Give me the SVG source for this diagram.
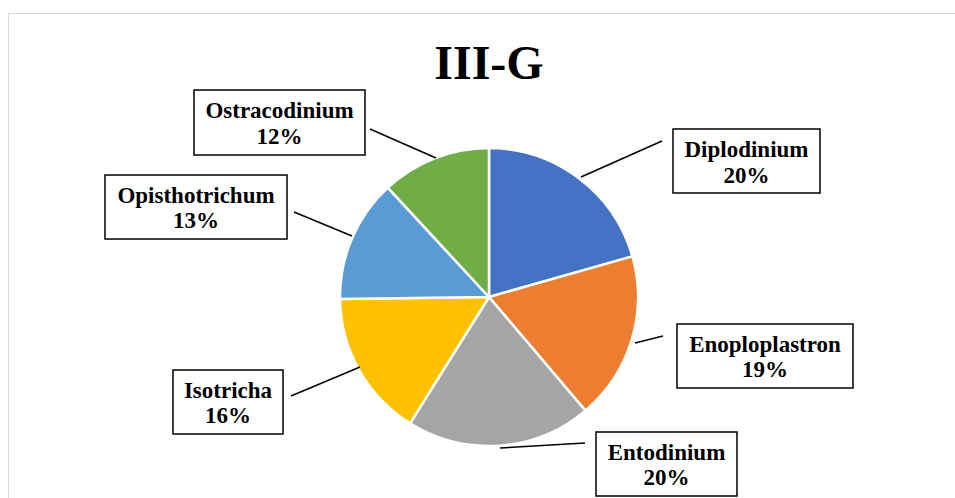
<svg xmlns="http://www.w3.org/2000/svg" width="955" height="498" viewBox="0 0 955 498">
<style>
.t{font-family:"Liberation Serif","Times New Roman",serif;font-weight:bold;fill:#000}
.lbl{font-size:23px;text-anchor:middle}
.box{fill:#fff;stroke:#000;stroke-width:1.5}
.sl{stroke:#fff;stroke-width:2.5;stroke-linejoin:round}
.ld{stroke:#000;stroke-width:1.5;fill:none}
</style>
<rect x="0" y="0" width="955" height="498" fill="#fff"/>
<path d="M8.5 498 V13.5 H955" fill="none" stroke="#d9d9d9" stroke-width="1"/>
<text class="t" x="489" y="79" font-size="48" text-anchor="middle">III-G</text>
<g id="pie">
<path class="sl" fill="#4472C4" d="M489 297 L489 148 A149 149 0 0 1 632.4 256.4 Z"/>
<path class="sl" fill="#ED7D31" d="M489 297 L632.4 256.4 A149 149 0 0 1 585.4 410.6 Z"/>
<path class="sl" fill="#A5A5A5" d="M489 297 L585.4 410.6 A149 149 0 0 1 410.0 423.4 Z"/>
<path class="sl" fill="#FFC000" d="M489 297 L410.0 423.4 A149 149 0 0 1 340.0 299.1 Z"/>
<path class="sl" fill="#5B9BD5" d="M489 297 L340.0 299.1 A149 149 0 0 1 387.8 187.7 Z"/>
<path class="sl" fill="#70AD47" d="M489 297 L387.8 187.7 A149 149 0 0 1 489 148 Z"/>
</g>
<g id="connectors">
<line class="ld" x1="581" y1="177" x2="662" y2="141"/>
<line class="ld" x1="635" y1="343" x2="663" y2="336"/>
<line class="ld" x1="500" y1="448" x2="585" y2="443"/>
<line class="ld" x1="360" y1="367" x2="291" y2="396"/>
<line class="ld" x1="352" y1="236" x2="294" y2="212"/>
<line class="ld" x1="436" y1="158" x2="370" y2="129"/>
</g>
<g id="diplodinium">
<rect class="box" x="673" y="129" width="147" height="64"/>
<text class="t lbl" x="746.5" y="156.5">Diplodinium</text>
<text class="t lbl" x="746.5" y="182.5">20%</text>
</g>
<g id="enoploplastron">
<rect class="box" x="677" y="324" width="176" height="64"/>
<text class="t lbl" x="765" y="351.5">Enoploplastron</text>
<text class="t lbl" x="765" y="377">19%</text>
</g>
<g id="entodinium">
<rect class="box" x="596" y="432" width="141" height="64"/>
<text class="t lbl" x="666.5" y="459.5">Entodinium</text>
<text class="t lbl" x="666.5" y="485">20%</text>
</g>
<g id="isotricha">
<rect class="box" x="173" y="370" width="110" height="64"/>
<text class="t lbl" x="228" y="397.5">Isotricha</text>
<text class="t lbl" x="228" y="423">16%</text>
</g>
<g id="opisthotrichum">
<rect class="box" x="105" y="175" width="182" height="64"/>
<text class="t lbl" x="196" y="202.5">Opisthotrichum</text>
<text class="t lbl" x="196" y="228">13%</text>
</g>
<g id="ostracodinium">
<rect class="box" x="194" y="90" width="171" height="65"/>
<text class="t lbl" x="279.5" y="118">Ostracodinium</text>
<text class="t lbl" x="279.5" y="144">12%</text>
</g>
</svg>
